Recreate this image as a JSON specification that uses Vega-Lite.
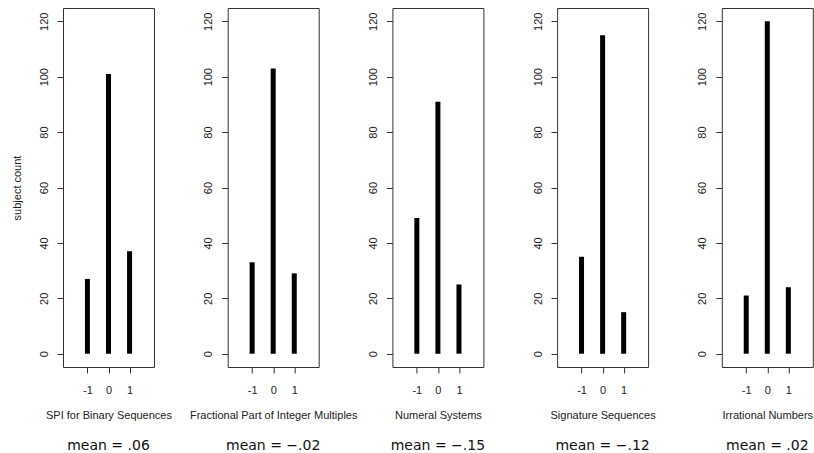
{
  "$schema": "https://vega.github.io/schema/vega-lite/v6.json",
  "autosize": {"type": "pad"},
  "padding": {"left": 10, "top": 7, "right": 1, "bottom": 1},
  "background": "white",
  "bounds": "flush",
  "data": {"values": [
    {"topic": "SPI for Binary Sequences", "score": -1, "count": 27},
    {"topic": "SPI for Binary Sequences", "score": 0, "count": 101},
    {"topic": "SPI for Binary Sequences", "score": 1, "count": 37},
    {"topic": "Fractional Part of Integer Multiples", "score": -1, "count": 33},
    {"topic": "Fractional Part of Integer Multiples", "score": 0, "count": 103},
    {"topic": "Fractional Part of Integer Multiples", "score": 1, "count": 29},
    {"topic": "Numeral Systems", "score": -1, "count": 49},
    {"topic": "Numeral Systems", "score": 0, "count": 91},
    {"topic": "Numeral Systems", "score": 1, "count": 25},
    {"topic": "Signature Sequences", "score": -1, "count": 35},
    {"topic": "Signature Sequences", "score": 0, "count": 115},
    {"topic": "Signature Sequences", "score": 1, "count": 15},
    {"topic": "Irrational Numbers", "score": -1, "count": 21},
    {"topic": "Irrational Numbers", "score": 0, "count": 120},
    {"topic": "Irrational Numbers", "score": 1, "count": 24}
  ]},
  "spacing": 73.7,
  "hconcat": [
    {
      "width": 91, "height": 359,
      "title": {"text": "mean = .06"},
      "transform": [{"filter": "datum.topic === 'SPI for Binary Sequences'"}],
      "mark": {"type": "rule", "strokeWidth": 5, "strokeCap": "butt", "color": "black"},
      "encoding": {
        "x": {"field": "score", "type": "quantitative", "scale": {"domain": [-2.16, 2.16], "nice": false, "zero": false}, "axis": {"values": [-1, 0, 1], "title": "SPI for Binary Sequences"}},
        "y": {"field": "count", "type": "quantitative", "scale": {"domain": [-4.8, 124.8], "nice": false, "zero": false}, "axis": {"values": [0, 20, 40, 60, 80, 100, 120], "title": "subject count"}},
        "y2": {"datum": 0}
      }
    },
    {
      "width": 91, "height": 359,
      "title": {"text": "mean = −.02"},
      "transform": [{"filter": "datum.topic === 'Fractional Part of Integer Multiples'"}],
      "mark": {"type": "rule", "strokeWidth": 5, "strokeCap": "butt", "color": "black"},
      "encoding": {
        "x": {"field": "score", "type": "quantitative", "scale": {"domain": [-2.16, 2.16], "nice": false, "zero": false}, "axis": {"values": [-1, 0, 1], "title": "Fractional Part of Integer Multiples"}},
        "y": {"field": "count", "type": "quantitative", "scale": {"domain": [-4.8, 124.8], "nice": false, "zero": false}, "axis": {"values": [0, 20, 40, 60, 80, 100, 120], "title": null}},
        "y2": {"datum": 0}
      }
    },
    {
      "width": 91, "height": 359,
      "title": {"text": "mean = −.15"},
      "transform": [{"filter": "datum.topic === 'Numeral Systems'"}],
      "mark": {"type": "rule", "strokeWidth": 5, "strokeCap": "butt", "color": "black"},
      "encoding": {
        "x": {"field": "score", "type": "quantitative", "scale": {"domain": [-2.16, 2.16], "nice": false, "zero": false}, "axis": {"values": [-1, 0, 1], "title": "Numeral Systems"}},
        "y": {"field": "count", "type": "quantitative", "scale": {"domain": [-4.8, 124.8], "nice": false, "zero": false}, "axis": {"values": [0, 20, 40, 60, 80, 100, 120], "title": null}},
        "y2": {"datum": 0}
      }
    },
    {
      "width": 91, "height": 359,
      "title": {"text": "mean = −.12"},
      "transform": [{"filter": "datum.topic === 'Signature Sequences'"}],
      "mark": {"type": "rule", "strokeWidth": 5, "strokeCap": "butt", "color": "black"},
      "encoding": {
        "x": {"field": "score", "type": "quantitative", "scale": {"domain": [-2.16, 2.16], "nice": false, "zero": false}, "axis": {"values": [-1, 0, 1], "title": "Signature Sequences"}},
        "y": {"field": "count", "type": "quantitative", "scale": {"domain": [-4.8, 124.8], "nice": false, "zero": false}, "axis": {"values": [0, 20, 40, 60, 80, 100, 120], "title": null}},
        "y2": {"datum": 0}
      }
    },
    {
      "width": 91, "height": 359,
      "title": {"text": "mean = .02"},
      "transform": [{"filter": "datum.topic === 'Irrational Numbers'"}],
      "mark": {"type": "rule", "strokeWidth": 5, "strokeCap": "butt", "color": "black"},
      "encoding": {
        "x": {"field": "score", "type": "quantitative", "scale": {"domain": [-2.16, 2.16], "nice": false, "zero": false}, "axis": {"values": [-1, 0, 1], "title": "Irrational Numbers"}},
        "y": {"field": "count", "type": "quantitative", "scale": {"domain": [-4.8, 124.8], "nice": false, "zero": false}, "axis": {"values": [0, 20, 40, 60, 80, 100, 120], "title": null}},
        "y2": {"datum": 0}
      }
    }
  ],
  "config": {
    "view": {"stroke": "#333", "strokeWidth": 1},
    "title": {"orient": "bottom", "anchor": "middle", "font": "DejaVu Sans", "fontSize": 14, "fontWeight": "normal", "color": "#111", "offset": 19},
    "axis": {
      "domain": false, "grid": false,
      "tickColor": "#333", "tickSize": 6, "tickWidth": 1,
      "labelFont": "Liberation Sans", "labelFontSize": 11, "labelColor": "#222",
      "titleFont": "Liberation Sans", "titleFontSize": 11, "titleFontWeight": "normal", "titleColor": "#222"
    },
    "axisY": {"labelAngle": -90, "labelAlign": "center", "labelBaseline": "bottom", "labelPadding": 8, "titlePadding": 16},
    "axisX": {"labelPadding": 11, "titlePadding": 14, "labelFlush": false, "labelExpr": "replace(datum.label, '−', '-')"}
  }
}
